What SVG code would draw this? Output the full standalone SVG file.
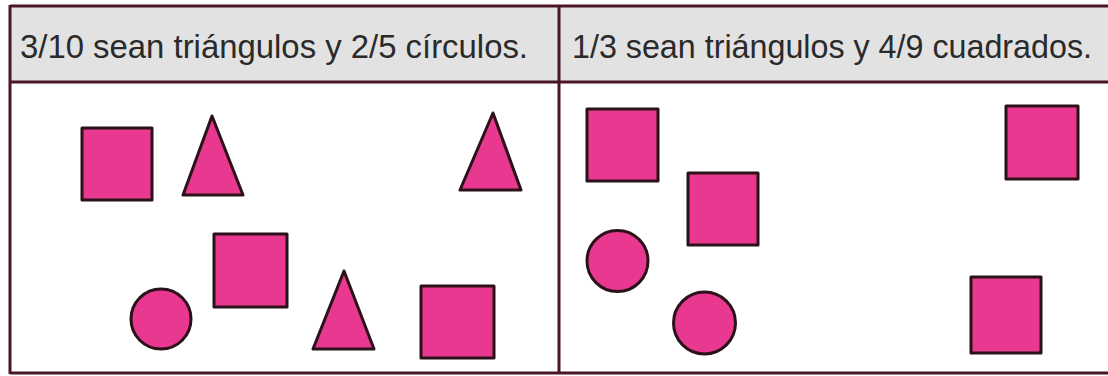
<svg xmlns="http://www.w3.org/2000/svg" width="1108" height="376" viewBox="0 0 1108 376">
<style>
.rule{stroke:#4a1526;stroke-width:3;fill:none}
.hdr{fill:#e2e2e2}
.txt{font-family:"Liberation Sans","DejaVu Sans",sans-serif;font-size:33px;fill:#2a2a2a}
.shape{fill:#e8388f;stroke:#2b1119;stroke-width:3;stroke-linejoin:round}
</style>
<rect x="0" y="0" width="1108" height="376" fill="#ffffff"/>
<g id="header">
<rect class="hdr" x="10" y="6" width="1098" height="76"/>
<text class="txt" x="20" y="58" textLength="508" lengthAdjust="spacingAndGlyphs">3/10 sean triángulos y 2/5 círculos.</text>
<text class="txt" x="572" y="58" textLength="520" lengthAdjust="spacingAndGlyphs">1/3 sean triángulos y 4/9 cuadrados.</text>
</g>
<g id="table-lines">
<line class="rule" x1="10" y1="6" x2="1108" y2="6"/>
<line class="rule" x1="10" y1="82" x2="1108" y2="82"/>
<line class="rule" x1="10" y1="373" x2="1108" y2="373"/>
<line class="rule" x1="10" y1="5" x2="10" y2="374"/>
<line class="rule" x1="559" y1="5" x2="559" y2="374"/>
</g>
<g id="left-cell">
<rect id="sq1" class="shape" x="82" y="128" width="70" height="72"/>
<polygon id="tri1" class="shape" points="212,116 183,195 243,195"/>
<polygon id="tri2" class="shape" points="493,113 460,190 521,190"/>
<rect id="sq2" class="shape" x="214" y="234" width="73" height="73"/>
<circle id="circ1" class="shape" cx="161" cy="319" r="30"/>
<polygon id="tri3" class="shape" points="344,271 313,349 374,349"/>
<rect id="sq3" class="shape" x="421" y="286" width="73" height="72"/>
</g>
<g id="right-cell">
<rect id="sq4" class="shape" x="587" y="109" width="71" height="72"/>
<rect id="sq5" class="shape" x="688" y="173" width="70" height="72"/>
<rect id="sq6" class="shape" x="1006" y="106" width="72" height="73"/>
<circle id="circ2" class="shape" cx="617.5" cy="261" r="30.5"/>
<circle id="circ3" class="shape" cx="704.5" cy="323" r="31"/>
<rect id="sq7" class="shape" x="971" y="277" width="70" height="76"/>
</g>
</svg>
